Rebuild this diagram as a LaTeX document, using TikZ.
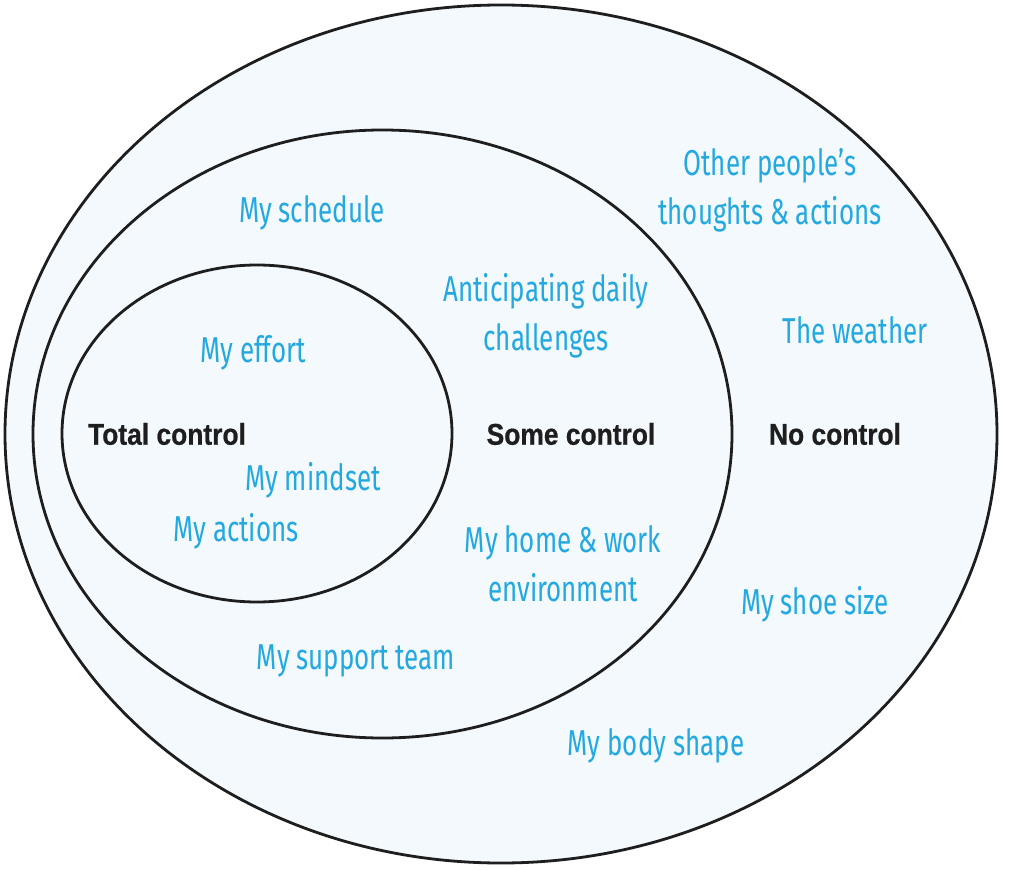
\documentclass[tikz,border=0pt]{standalone}
\usepackage{fontspec}
\usetikzlibrary{shapes.geometric}
\setmainfont{Liberation Sans}
\newfontfamily\handfont[FakeStretch=0.72]{Fira Sans}
\newfontfamily\zonefont[FakeStretch=0.88,FakeBold=0.6]{Liberation Sans Bold}
\definecolor{handblue}{RGB}{35,168,224}
\definecolor{ringfill}{RGB}{243,249,252}
\definecolor{ringline}{RGB}{30,30,30}
\tikzset{
  ring/.style={ellipse, draw=ringline, fill=ringfill, line width=2.1pt, inner sep=0pt},
  zonelabel/.style={font=\zonefont\fontsize{22.5}{26}\selectfont, text=ringline, inner sep=0pt},
  item/.style={font=\handfont\fontsize{27}{37}\selectfont, text=handblue, align=center, inner sep=0pt}
}
\begin{document}
\begin{tikzpicture}[x=0.75pt,y=-0.75pt]
\useasboundingbox[fill=white] (0,0) rectangle (1024,870);
% rings
\node[ring, minimum width=744pt, minimum height=643.5pt] (outer) at (501,434) {};
\node[ring, minimum width=524.25pt, minimum height=456pt] (middle) at (382.5,434) {};
\node[ring, minimum width=292.5pt, minimum height=252.75pt] (inner) at (257,433.5) {};
% zone labels
\node[zonelabel] (total) at (167,434) {Total control};
\node[zonelabel] (some) at (571,434) {Some control};
\node[zonelabel] (none) at (835,434) {No control};
% items
\node[item] (schedule) at (312,213) {My schedule};
\node[item] (others) at (770,190) {Other people’s\\thoughts \& actions};
\node[item] (anticip) at (546,316) {Anticipating daily\\challenges};
\node[item] (weather) at (855,330) {The weather};
\node[item] (effort) at (253,353) {My effort};
\node[item] (mindset) at (313,480) {My mindset};
\node[item] (actions) at (236,531) {My actions};
\node[item] (homework) at (563,564) {My home \& work\\environment};
\node[item] (shoe) at (815,604) {My shoe size};
\node[item] (support) at (356,661) {My support team};
\node[item] (body) at (656,746) {My body shape};
\end{tikzpicture}
\end{document}
